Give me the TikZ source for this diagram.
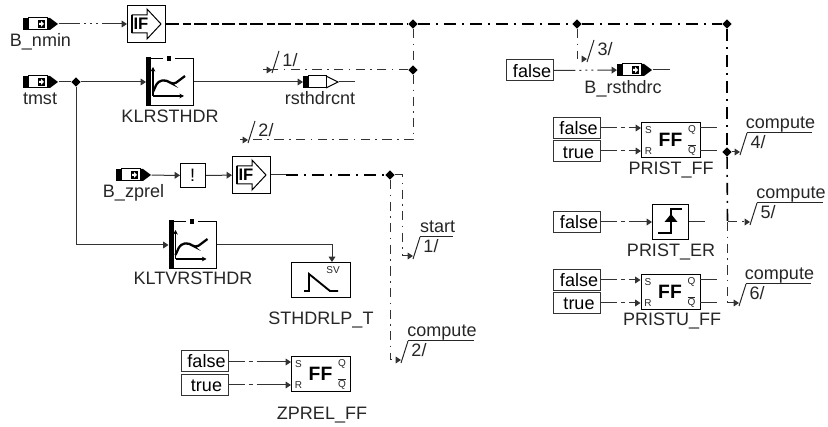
\documentclass[tikz,border=0pt]{standalone}
\usepackage{fontspec}
\setmainfont{Liberation Sans}
\usetikzlibrary{arrows.meta, shapes.geometric}

\tikzset{
  sigline/.style={line width=0.75pt, draw=black!80},
  sigtip/.style={-{Triangle[length=4pt,width=5pt]}},
  sigdots/.style={sigline, dash pattern=on 16pt off 3pt on 1.5pt off 3pt on 1.5pt off 3pt on 1.5pt off 3pt on 60pt off 1pt},
  sigshort/.style={sigline, dash pattern=on 12pt off 3pt on 3pt off 3pt on 40pt off 1pt},
  sigthin/.style={sigline, dash pattern=on 7pt off 4pt on 1.2pt off 4pt},
  sigheavy/.style={line width=1.2pt, draw=black, dash pattern=on 9pt off 4.5pt on 1.5pt off 4.5pt},
  sigbus/.style={line width=1.2pt, draw=black, dash pattern=on 10pt off 2.5pt on 6pt off 2.5pt},
  blockbox/.style={draw=black, line width=0.75pt, fill=white, inner sep=0pt, anchor=north west},
  constbox/.style={draw=black!80, line width=0.75pt, inner sep=0pt, minimum width=35.25pt, minimum height=15.75pt,
    text height=9.8pt, text depth=0pt, font=\fontsize{13.5}{16}\selectfont},
  siglabel/.style={anchor=base, inner sep=0pt, text=black!85, font=\fontsize{13.5}{16}\selectfont},
  tinylabel/.style={inner sep=0pt, text=black!85, font=\fontsize{7.5}{8}\selectfont},
  junction/.style={diamond, fill=black, inner sep=0pt, minimum size=7pt},
}

% ── Block macros (all in reference pixels) ──
\newcommand{\inblock}[3]{%
  \node[inner sep=0pt, minimum width=26.25pt, minimum height=9pt, anchor=west] (#1) at (#2,#3) {};
  \begin{scope}[shift={(#2,#3)}]
    \fill[black] (0,-6) rectangle (5,6);
    \draw[black, line width=0.75pt] (5,-6) rectangle (24,6);
    \fill[black] (15,-4) rectangle (22,4);
    \fill[white] (16,-1) -- (18,-1) -- (18,-3) -- (21,0) -- (18,3) -- (18,1) -- (16,1) -- cycle;
    \fill[black] (24,-6) -- (27,-6) -- (35,0) -- (27,6) -- (24,6) -- cycle;
  \end{scope}}
\newcommand{\outblock}[3]{%
  \node[inner sep=0pt, minimum width=26.25pt, minimum height=9pt, anchor=west] (#1) at (#2,#3) {};
  \begin{scope}[shift={(#2,#3)}]
    \draw[black, line width=0.75pt] (5,-6) rectangle (23,6);
    \draw[black, line width=0.75pt] (23,-6) -- (35,0) -- (23,6);
    \fill[black] (0,-6) rectangle (5,6);
  \end{scope}}
\newcommand{\gateblock}[3]{%
  \node[blockbox, minimum width=28.5pt, minimum height=27.75pt] (#1) at (#2,#3) {};
  \begin{scope}[shift={(#2,#3)}]
    \draw[black, line width=0.75pt] (5,10) -- (20,10) -- (20,4) -- (34,19) -- (20,34) -- (20,28) -- (5,28) -- cycle;
    \draw[black, line width=1.4pt] (5,10) -- (5,28);
    \node[inner sep=0pt, font=\fontsize{12.5}{14}\selectfont\bfseries] (#1-txt) at (14,19) {IF};
  \end{scope}}
\newcommand{\curveblock}[3]{%
  \node[blockbox, minimum width=35.25pt, minimum height=35.25pt] (#1) at (#2,#3) {};
  \begin{scope}[shift={(#2,#3)}]
    \fill[black] (0,-1) rectangle (5,48);
    \fill[white] (17,-1) rectangle (29,1);
    \fill[black] (21,-2) rectangle (25,3);
    \draw[black, line width=0.9pt, -{Stealth[length=3.5pt,width=3.5pt]}] (7,38) -- (7,9);
    \draw[black, line width=0.9pt, -{Stealth[length=3.5pt,width=3.5pt]}] (7,38) -- (38,38);
    \draw[black, line width=1.7pt, rounded corners=3pt] (7,34) -- (12,23) -- (21,22) -- (27,27) -- (39,18);
  \end{scope}}
\newcommand{\ffblock}[3]{%
  \node[blockbox, minimum width=44.25pt, minimum height=26.25pt] (#1) at (#2,#3) {};
  \begin{scope}[shift={(#2,#3)}]
    \coordinate (#1-si) at (0,6);
    \coordinate (#1-ri) at (0,29);
    \coordinate (#1-qo) at (59,6);
    \coordinate (#1-no) at (59,29);
    \node[inner sep=0pt, font=\fontsize{14.5}{16}\selectfont\bfseries] (#1-txt) at (29.5,17.5) {FF};
    \node[tinylabel] (#1-s) at (7.5,8) {S};
    \node[tinylabel] (#1-r) at (7.5,29) {R};
    \node[tinylabel] (#1-q) at (51,8) {Q};
    \node[tinylabel] (#1-n) at (51,28) {$\overline{\mbox{Q}}$};
  \end{scope}}
% foot of the root sign, with its number
\newcommand{\rootmark}[4]{%
  \coordinate (#1) at (#2,#3);
  \draw[black!85, line width=0.75pt] (#2,#3+3) -- (#2+7,#3-19);
  \node[siglabel] (#1-num) at (#2+18,#3-3) {#4};}
% bar over the root sign, with its word
\newcommand{\rootword}[5]{%
  \draw[black!85, line width=0.75pt] (#2+7,#3-19) -- (#2+7+#4,#3-19);
  \node[siglabel] (#1-word) at (#2+7+#4/2+1,#3-23.5) {#5};}

\begin{document}
\begin{tikzpicture}[x=0.75pt, y=-0.75pt]
  \useasboundingbox (0,0) rectangle (828,427);

  % ── Inputs and conversions ──
  \inblock{bnmin}{23}{24}
  \node[siglabel] (lbnmin) at (40.5,47) {B\_nmin};
  \gateblock{ifnmin}{127}{5}
  \inblock{tmst}{23}{82}
  \node[siglabel] (ltmst) at (40,105) {tmst};
  \node[junction] (jtmst) at (76,82) {};
  \curveblock{klrsthdr}{146}{58}
  \node[siglabel] (lklrsthdr) at (170,123) {KLRSTHDR};
  \outblock{rsthdrcnt}{303}{82}
  \coordinate (rsthdrend) at (355,82);
  \node[siglabel] (lrsthdrcnt) at (320,105) {rsthdrcnt};

  \inblock{bzprel}{116}{175}
  \node[siglabel] (lbzprel) at (133.5,198) {B\_zprel};
  \node[blockbox, minimum width=18.75pt, minimum height=18pt] (notzprel) at (180,163) {};
  \node[inner sep=0pt, font=\fontsize{13.5}{16}\selectfont] (lnotzprel) at (192.5,175) {!};
  \gateblock{ifzprel}{232}{156}

  \curveblock{kltvrsthdr}{168.5}{221}
  \node[siglabel] (lkltvrsthdr) at (193,285) {KLTVRSTHDR};
  \node[blockbox, minimum width=44.25pt, minimum height=26.25pt] (sthdrlp) at (291,262) {};
  \coordinate (sthdrin) at (332,262);
  \node[tinylabel] (lsv) at (333,270) {SV};
  \draw[black, line width=1.4pt] (304,291) -- (309,291) -- (309,274) -- (330,291) -- (338,291);
  \node[siglabel] (lsthdrlp) at (321,325) {STHDRLP\_T};

  % ── Constant boxes ──
  \foreach \nm/\x/\y/\txt in {
      czf/204.5/361/false, czt/204.5/385/true,
      crf/530/70.5/false,
      cpf/576.5/128/false, cpt/576.5/151.5/true,
      cef/577/222/false,
      cuf/577/280/false, cut/577/303/true} {
    \node[constbox] (\nm) at (\x,\y) {\hspace*{3pt}\txt};
  }

  \ffblock{zprelff}{291}{356}
  \node[siglabel] (lzprelff) at (322,419) {ZPREL\_FF};
  \ffblock{pristff}{641}{122}
  \node[siglabel] (lpristff) at (671,175) {PRIST\_FF};
  \ffblock{pristuff}{640.5}{274}
  \node[siglabel] (lpristuff) at (672,326) {PRISTU\_FF};

  \node[blockbox, minimum width=27pt, minimum height=26.25pt] (pristerbox) at (652,204) {};
  \draw[black, line width=1.4pt] (658,233) -- (671,233) -- (671,209) -- (682,209);
  \fill[black] (664.5,222) -- (677.5,222) -- (671,214) -- cycle;
  \node[siglabel] (lprister) at (671,257) {PRIST\_ER};

  \inblock{brsthdrc}{617}{70}
  \node[siglabel] (lbrsthdrc) at (623,94) {B\_rsthdrc};

  % ── Solid and thin connectors ──
  \draw[sigdots, sigtip] (bnmin) -- (ifnmin);
  \draw[sigline] (tmst) -- (jtmst);
  \draw[sigline, sigtip] (jtmst) -- (klrsthdr);
  \draw[sigline, sigtip] (klrsthdr) -- (rsthdrcnt);
  \draw[sigline] (rsthdrcnt) -- (rsthdrend);
  \draw[sigline, sigtip] (jtmst) |- (kltvrsthdr);
  \draw[sigline, sigtip] (kltvrsthdr) -| (sthdrin);
  \draw[sigline, sigtip] (bzprel) -- (notzprel);
  \draw[sigline, sigtip] (notzprel) -- (ifzprel);
  \draw[sigdots, sigtip] (crf) -- (brsthdrc);
  \coordinate (brsthdrend) at (670,70);
  \draw[sigline] (brsthdrc) -- (brsthdrend);
  \draw[sigshort, sigtip] (cef) -- (pristerbox);
  \coordinate (pristerend) at (705,222);
  \draw[sigline] (pristerbox) -- (pristerend);

  % ── Flip-flop inputs and outputs ──
  \foreach \a/\b/\ff in {czf/czt/zprelff, cpf/cpt/pristff, cuf/cut/pristuff} {
    \draw[sigshort, sigtip] (\a.east |- \ff-si) -- (\ff-si);
    \draw[sigshort, sigtip] (\b.east |- \ff-ri) -- (\ff-ri);
  }
  \foreach \ff/\yq/\yn in {pristff/128/151, pristuff/280/303} {
    \coordinate (\ff-qe) at (717,\yq);
    \coordinate (\ff-ne) at (717,\yn);
    \draw[sigline] (\ff-qo) -- (\ff-qe);
    \draw[sigline] (\ff-no) -- (\ff-ne);
  }

  % ── Upper bus ──
  \node[junction] (jbus1) at (413,24) {};
  \node[junction] (jbus2) at (577,24) {};
  \node[junction] (jbus3) at (727,24) {};
  \node[junction] (jtap1) at (413,70) {};
  \node[junction] (jtap4) at (727,152) {};
  \draw[sigbus] (ifnmin) -- (jbus1);
  \draw[sigheavy] (jbus1) -- (jbus2);
  \draw[sigheavy] (jbus2) -- (jbus3);
  \draw[sigthin] (jbus1) -- (jtap1);

  \rootmark{foota}{272}{70}{1/}
  \coordinate (stuba) at (263,70);
  \draw[sigthin] (jtap1) -- (stuba);
  \draw[sigline, sigtip] (stuba) -- (foota);

  \rootmark{footb}{248}{140}{2/}
  \coordinate (stubb) at (240,140);
  \draw[sigthin] (jtap1) |- (stubb);
  \draw[sigline, sigtip] (stubb) -- (footb);

  \rootmark{footc}{587}{59}{3/}
  \draw[sigthin, sigtip] (jbus2) |- (footc);

  % ── Right-hand tap line ──
  \draw[sigheavy] (jbus3) -- (jtap4);
  \coordinate (elbowe) at (727.5,222);
  \coordinate (elbowf) at (727.5,303);
  \draw[sigheavy] (jtap4) -- (elbowe);
  \draw[sigthin] (elbowe) -- (elbowf);

  \rootmark{footd}{740}{152}{4/}
  \rootword{footd}{740}{152}{65}{compute}
  \draw[sigline, sigtip] (jtap4) -- (footd);
  \rootmark{foote}{750}{222}{5/}
  \rootword{foote}{750}{222}{66}{compute}
  \draw[sigthin, sigtip] (elbowe) -- (foote);
  \rootmark{footf}{739}{303}{6/}
  \rootword{footf}{739}{303}{65}{compute}
  \draw[sigline, sigtip] (elbowf) -- (footf);

  % ── Lower tap line ──
  \node[junction] (jzprel) at (390,175) {};
  \coordinate (ifzstub) at (286,175);
  \draw[sigline] (ifzprel) -- (ifzstub);
  \draw[sigheavy] (ifzstub) -- (jzprel);
  \rootmark{footg}{413}{256}{1/}
  \rootword{footg}{413}{256}{33}{start}
  \coordinate (elbowg) at (402,175);
  \draw[sigthin, sigtip] (jzprel) -- (elbowg) |- (footg);
  \rootmark{footh}{401}{360}{2/}
  \rootword{footh}{401}{360}{66}{compute}
  \draw[sigthin, sigtip] (jzprel) |- (footh);
\end{tikzpicture}
\end{document}
